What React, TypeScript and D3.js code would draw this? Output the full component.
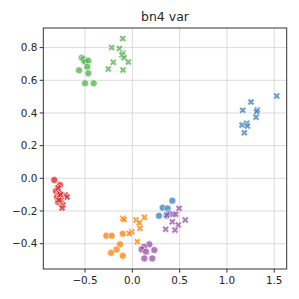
import * as d3 from "d3";

const title = "bn4 var";
const xTicks = [-0.5, 0.0, 0.5, 1.0, 1.5];
const yTicks = [-0.4, -0.2, 0.0, 0.2, 0.4, 0.6, 0.8];

const greenCircles: [number, number][] = [
  [-0.535, 0.738], [-0.518, 0.729], [-0.5, 0.714], [-0.465, 0.72], [-0.476, 0.683],
  [-0.563, 0.661], [-0.465, 0.643], [-0.5, 0.582], [-0.408, 0.582],
];
const greenCrosses: [number, number][] = [
  [-0.101, 0.855], [-0.218, 0.8], [-0.137, 0.794], [-0.101, 0.765], [-0.109, 0.755],
  [-0.088, 0.738], [-0.201, 0.71], [-0.042, 0.712], [-0.254, 0.669], [-0.098, 0.663],
];
const blueCrosses: [number, number][] = [
  [1.526, 0.504], [1.255, 0.467], [1.167, 0.416], [1.321, 0.418], [1.315, 0.408],
  [1.209, 0.337], [1.16, 0.326], [1.308, 0.374], [1.216, 0.32], [1.184, 0.279],
];
const blueCircles: [number, number][] = [
  [0.423, -0.137], [0.321, -0.18], [0.374, -0.184], [0.282, -0.229], [0.364, -0.229],
  [0.39, -0.215],
];
const purpleCrosses: [number, number][] = [
  [0.494, -0.184], [0.364, -0.225], [0.433, -0.22], [0.459, -0.22], [0.56, -0.255],
  [0.423, -0.266], [0.486, -0.286], [0.353, -0.312], [0.451, -0.317],
];
const purpleCircles: [number, number][] = [
  [0.18, -0.404], [0.124, -0.419], [0.099, -0.435], [0.233, -0.439], [0.145, -0.449],
  [0.127, -0.49], [0.211, -0.49],
];
const orangeCircles: [number, number][] = [
  [-0.275, -0.351], [-0.218, -0.351], [-0.101, -0.339], [-0.13, -0.404], [-0.167, -0.436],
  [-0.225, -0.456], [-0.101, -0.474],
];
const orangeCrosses: [number, number][] = [
  [-0.101, -0.245], [-0.088, -0.252], [0.039, -0.255], [0.127, -0.239], [0.074, -0.272],
  [0.081, -0.306], [-0.006, -0.327], [-0.032, -0.337], [0.053, -0.388],
];
const redCircles: [number, number][] = [
  [-0.825, -0.01], [-0.764, -0.041], [-0.807, -0.078], [-0.796, -0.114], [-0.785, -0.145],
  [-0.77, -0.09],
];
const redCrosses: [number, number][] = [
  [-0.711, -0.102], [-0.69, -0.114], [-0.754, -0.133], [-0.733, -0.163], [-0.743, -0.182],
  [-0.775, -0.133], [-0.785, -0.059], [-0.76, -0.1],
];

const groups: { pts: [number, number][]; color: string; shape: "o" | "x" }[] = [
  { pts: blueCircles, color: "#377eb8", shape: "o" },
  { pts: blueCrosses, color: "#377eb8", shape: "x" },
  { pts: orangeCircles, color: "#ff7f00", shape: "o" },
  { pts: orangeCrosses, color: "#ff7f00", shape: "x" },
  { pts: greenCircles, color: "#4daf4a", shape: "o" },
  { pts: greenCrosses, color: "#4daf4a", shape: "x" },
  { pts: redCircles, color: "#e41a1c", shape: "o" },
  { pts: redCrosses, color: "#e41a1c", shape: "x" },
  { pts: purpleCircles, color: "#984ea3", shape: "o" },
  { pts: purpleCrosses, color: "#984ea3", shape: "x" },
];

// thick X marker, like matplotlib's filled "X"
const crossPath = (() => {
  const a = 3.7, t = 1.25;
  const base: [number, number][] = [
    [-t, -a], [-t, -t], [-a, -t], [-a, t], [-t, t], [-t, a],
    [t, a], [t, t], [a, t], [a, -t], [t, -t], [t, -a],
  ];
  const c = Math.SQRT1_2;
  const rot = base.map(([x, y]) => [x * c - y * c, x * c + y * c] as [number, number]);
  return d3.line()(rot) + "Z";
})();

const fmt = (v: number) => (v < 0 ? "\u2212" : "") + Math.abs(v).toFixed(1);

export default function App() {
  const left = 43.3, right = 286.7, top = 28, bottom = 269;
  const x = d3.scaleLinear().domain([-0.941, 1.632]).range([left, right]);
  const y = d3.scaleLinear().domain([-0.555, 0.92]).range([bottom, top]);
  const font = "DejaVu Sans, sans-serif";

  return (
    <svg width={299} height={299} style={{ position: "absolute", left: 0, top: 0 }}>
      <rect width={299} height={299} fill="#fff" />
      <g stroke="#d6d6d6" strokeWidth={0.9}>
        {xTicks.map((t) => (
          <line key={"gx" + t} x1={x(t)} x2={x(t)} y1={top} y2={bottom} />
        ))}
        {yTicks.map((t) => (
          <line key={"gy" + t} x1={left} x2={right} y1={y(t)} y2={y(t)} />
        ))}
      </g>
      {groups.map((g, gi) => (
        <g key={gi} fill={g.color} fillOpacity={0.75} stroke="#fff" strokeWidth={0.6}>
          {g.pts.map(([px, py], i) =>
            g.shape === "o" ? (
              <circle key={i} cx={x(px)} cy={y(py)} r={3.5} />
            ) : (
              <path key={i} d={crossPath} transform={`translate(${x(px)},${y(py)})`} />
            )
          )}
        </g>
      ))}
      <rect x={left} y={top} width={right - left} height={bottom - top} fill="none" stroke="#333" strokeWidth={1} />
      <g fontFamily={font} fontSize={10.4} fill="#262626">
        {xTicks.map((t) => (
          <g key={"tx" + t}>
            <line x1={x(t)} x2={x(t)} y1={bottom} y2={bottom + 3.6} stroke="#333" />
            <text x={x(t)} y={bottom + 15} textAnchor="middle">{fmt(t)}</text>
          </g>
        ))}
        {yTicks.map((t) => (
          <g key={"ty" + t}>
            <line x1={left - 3.6} x2={left} y1={y(t)} y2={y(t)} stroke="#333" />
            <text x={left - 6} y={y(t)} dy="0.36em" textAnchor="end">{fmt(t)}</text>
          </g>
        ))}
      </g>
      <text x={(left + right) / 2} y={21} textAnchor="middle" fontFamily={font} fontSize={12.5} fill="#262626">
        {title}
      </text>
    </svg>
  );
}
